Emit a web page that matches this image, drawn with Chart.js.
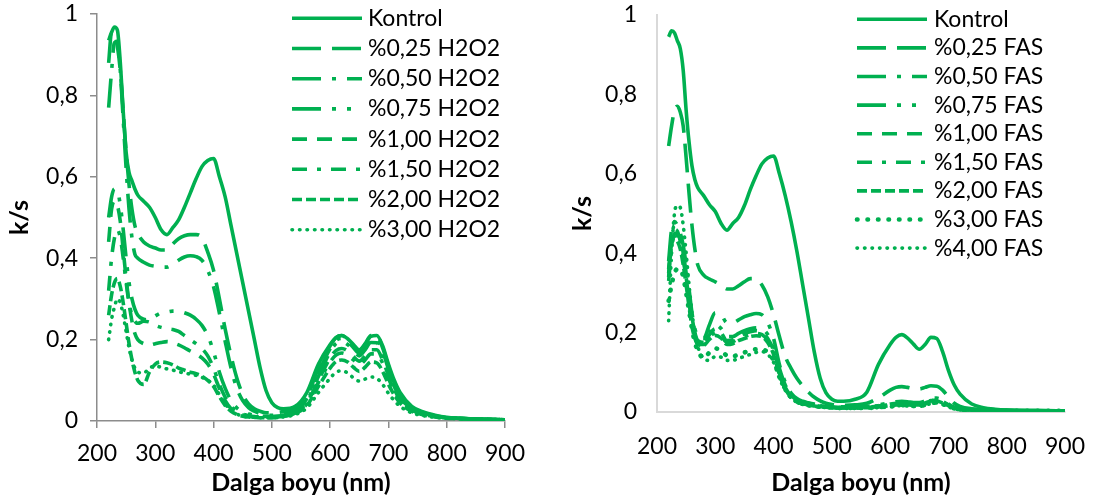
<!DOCTYPE html>
<html>
<head>
<meta charset="utf-8">
<script src="https://cdn.jsdelivr.net/npm/chart.js@4.4.1/dist/chart.umd.min.js"></script>
<style>
  html, body { margin: 0; padding: 0; background: #fff; }
  #wrap { position: relative; width: 1094px; height: 504px; overflow: hidden; }
  canvas { position: absolute; top: 0; }
  #h2o2 { left: 0; }
  #fas { left: 547px; }
</style>
</head>
<body>
<div id="wrap">
  <canvas id="h2o2" width="547" height="504"></canvas>
  <canvas id="fas" width="547" height="504"></canvas>
</div>
<script>
// Wavelengths (nm) shared by every spectrum
const dalgaBoyu = [220,225,230,235,240,245,250,255,260,265, 270,280,290,300,310,320,330,340,350,360,
                   370,380,390,400,410,420,430,440,450,460, 470,480,490,500,510,520,540,560,580,600,
                   610,620,630,640,650,660,670,680,690,700, 710,720,740,760,780,800,850,900];

const xTickValues = [200,300,400,500,600,700,800,900];
const xTickLabels = ['200','300','400','500','600','700','800','900'];
const yTickValues = [0,0.2,0.4,0.6,0.8,1];
const yTickLabels = ['0','0,2','0,4','0,6','0,8','1'];

const h2o2Labels = ['Kontrol','%0,25 H2O2','%0,50 H2O2','%0,75 H2O2','%1,00 H2O2','%1,50 H2O2','%2,00 H2O2','%3,00 H2O2'];
const fasLabels  = ['Kontrol','%0,25 FAS','%0,50 FAS','%0,75 FAS','%1,00 FAS','%1,50 FAS','%2,00 FAS','%3,00 FAS','%4,00 FAS'];

// k/s spectra, H2O2 treatments
const h2o2Kontrol = [0.935,0.955,0.968,0.96,0.88,0.76,0.66,0.61,0.59,0.57, 0.555,0.54,0.525,0.50,0.47,0.458,0.475,0.494,0.525,0.56,
                     0.595,0.625,0.64,0.645,0.60,0.55,0.48,0.41,0.34,0.27, 0.20,0.13,0.075,0.045,0.033,0.03,0.036,0.07,0.14,0.188,
                     0.205,0.21,0.202,0.188,0.175,0.188,0.208,0.21,0.185,0.14, 0.10,0.07,0.036,0.022,0.014,0.009,0.005,0.003];
const h2o2_025 = [0.88,0.955,0.95,0.92,0.86,0.76,0.66,0.58,0.52,0.48, 0.46,0.44,0.43,0.425,0.42,0.42,0.435,0.448,0.455,0.458,
                  0.458,0.45,0.415,0.37,0.30,0.225,0.16,0.105,0.065,0.042, 0.03,0.024,0.02,0.02,0.021,0.023,0.03,0.06,0.13,0.185,
                  0.205,0.21,0.2,0.185,0.172,0.19,0.21,0.21,0.18,0.135, 0.095,0.065,0.034,0.02,0.013,0.009,0.005,0.003];
const h2o2_050 = [0.77,0.86,0.93,0.93,0.86,0.74,0.62,0.52,0.45,0.41, 0.40,0.39,0.383,0.38,0.378,0.378,0.385,0.395,0.403,0.406,
                  0.404,0.395,0.37,0.33,0.265,0.195,0.13,0.08,0.05,0.033, 0.024,0.018,0.015,0.014,0.015,0.017,0.025,0.055,0.12,0.178,
                  0.198,0.203,0.195,0.18,0.167,0.183,0.202,0.2,0.172,0.128, 0.09,0.062,0.032,0.019,0.012,0.008,0.005,0.003];
const h2o2_075 = [0.50,0.55,0.57,0.565,0.53,0.47,0.40,0.34,0.30,0.275, 0.26,0.25,0.248,0.258,0.266,0.268,0.27,0.27,0.266,0.26,
                  0.25,0.235,0.21,0.17,0.12,0.08,0.05,0.032,0.022,0.017, 0.014,0.012,0.011,0.011,0.012,0.014,0.022,0.05,0.11,0.17,
                  0.19,0.195,0.188,0.173,0.16,0.175,0.193,0.192,0.165,0.122, 0.085,0.058,0.03,0.018,0.011,0.008,0.005,0.003];
const h2o2_100 = [0.44,0.52,0.54,0.53,0.49,0.42,0.35,0.29,0.245,0.215, 0.20,0.19,0.187,0.19,0.193,0.195,0.192,0.187,0.18,0.172,
                  0.165,0.155,0.14,0.115,0.08,0.05,0.03,0.02,0.015,0.012, 0.01,0.009,0.009,0.009,0.01,0.012,0.02,0.045,0.10,0.155,
                  0.173,0.178,0.172,0.158,0.147,0.16,0.175,0.175,0.15,0.112, 0.078,0.053,0.028,0.017,0.011,0.008,0.005,0.003];
const h2o2_150 = [0.32,0.40,0.45,0.47,0.45,0.40,0.34,0.29,0.26,0.245, 0.24,0.245,0.243,0.235,0.23,0.227,0.225,0.22,0.21,0.20,
                  0.19,0.178,0.16,0.13,0.09,0.058,0.036,0.024,0.017,0.013, 0.011,0.01,0.009,0.009,0.01,0.012,0.02,0.042,0.095,0.145,
                  0.162,0.167,0.162,0.15,0.138,0.15,0.165,0.165,0.142,0.105, 0.074,0.05,0.027,0.016,0.011,0.008,0.005,0.003];
const h2o2_200 = [0.26,0.31,0.34,0.35,0.33,0.29,0.24,0.19,0.15,0.12, 0.10,0.09,0.12,0.14,0.145,0.143,0.138,0.13,0.125,0.12,
                  0.116,0.11,0.10,0.085,0.06,0.038,0.024,0.016,0.012,0.01, 0.009,0.008,0.008,0.008,0.009,0.011,0.018,0.038,0.085,0.13,
                  0.146,0.15,0.145,0.132,0.122,0.132,0.145,0.143,0.122,0.09, 0.064,0.044,0.024,0.015,0.01,0.007,0.005,0.003];
const h2o2_300 = [0.20,0.25,0.28,0.30,0.29,0.26,0.22,0.18,0.15,0.13, 0.12,0.118,0.13,0.135,0.132,0.128,0.125,0.121,0.118,0.115,
                  0.112,0.107,0.10,0.088,0.065,0.042,0.026,0.017,0.012,0.01, 0.009,0.008,0.008,0.008,0.009,0.01,0.016,0.032,0.07,0.105,
                  0.12,0.123,0.118,0.106,0.098,0.103,0.108,0.105,0.09,0.068, 0.05,0.036,0.02,0.013,0.009,0.007,0.004,0.003];

// k/s spectra, FAS treatments
const fasKontrol = [0.945,0.96,0.955,0.935,0.915,0.86,0.76,0.68,0.62,0.585, 0.565,0.545,0.522,0.505,0.475,0.458,0.475,0.49,0.52,0.56,
                    0.595,0.625,0.64,0.645,0.60,0.545,0.48,0.405,0.32,0.235, 0.15,0.085,0.048,0.032,0.027,0.027,0.032,0.05,0.12,0.17,
                    0.188,0.195,0.186,0.171,0.158,0.17,0.188,0.185,0.152,0.105, 0.068,0.045,0.02,0.011,0.007,0.005,0.004,0.003];
const fas_025 = [0.67,0.72,0.76,0.77,0.755,0.72,0.64,0.55,0.47,0.41, 0.37,0.345,0.335,0.328,0.32,0.31,0.31,0.318,0.328,0.336,
                 0.335,0.32,0.29,0.245,0.19,0.14,0.11,0.085,0.066,0.05, 0.037,0.028,0.022,0.019,0.017,0.017,0.018,0.022,0.036,0.055,
                 0.062,0.064,0.062,0.059,0.058,0.062,0.066,0.065,0.055,0.038, 0.022,0.014,0.008,0.006,0.005,0.004,0.003,0.003];
const fas_050 = [0.38,0.46,0.48,0.47,0.45,0.42,0.37,0.31,0.25,0.21, 0.19,0.185,0.22,0.25,0.245,0.225,0.225,0.232,0.24,0.245,
                 0.248,0.245,0.225,0.185,0.12,0.075,0.048,0.034,0.027,0.023, 0.02,0.018,0.016,0.015,0.014,0.013,0.013,0.014,0.018,0.023,
                 0.026,0.027,0.026,0.024,0.024,0.028,0.034,0.035,0.03,0.02, 0.012,0.008,0.006,0.005,0.004,0.004,0.003,0.003];
const fas_075 = [0.36,0.44,0.47,0.46,0.44,0.40,0.35,0.29,0.24,0.20, 0.18,0.175,0.20,0.22,0.21,0.19,0.19,0.198,0.205,0.21,
                 0.212,0.21,0.195,0.165,0.11,0.068,0.043,0.03,0.024,0.02, 0.018,0.016,0.014,0.013,0.012,0.012,0.012,0.013,0.016,0.02,
                 0.022,0.023,0.022,0.021,0.021,0.024,0.029,0.03,0.026,0.018, 0.011,0.007,0.005,0.004,0.004,0.003,0.003,0.003];
const fas_100 = [0.34,0.43,0.46,0.455,0.43,0.39,0.34,0.28,0.23,0.195, 0.175,0.172,0.195,0.21,0.20,0.18,0.182,0.19,0.197,0.202,
                 0.205,0.20,0.185,0.155,0.10,0.062,0.04,0.028,0.022,0.019, 0.017,0.015,0.013,0.012,0.011,0.011,0.011,0.012,0.015,0.019,
                 0.021,0.022,0.021,0.02,0.02,0.023,0.028,0.03,0.026,0.018, 0.011,0.007,0.005,0.004,0.004,0.003,0.003,0.003];
const fas_150 = [0.33,0.41,0.45,0.445,0.425,0.385,0.335,0.275,0.225,0.19, 0.172,0.17,0.188,0.20,0.192,0.175,0.177,0.185,0.19,0.195,
                 0.198,0.195,0.18,0.15,0.097,0.06,0.038,0.027,0.021,0.018, 0.016,0.014,0.012,0.011,0.01,0.01,0.01,0.011,0.014,0.017,
                 0.019,0.02,0.019,0.018,0.018,0.021,0.026,0.028,0.024,0.016, 0.01,0.006,0.005,0.004,0.003,0.003,0.003,0.003];
const fas_200 = [0.35,0.42,0.44,0.43,0.41,0.37,0.32,0.265,0.215,0.185, 0.17,0.168,0.183,0.193,0.186,0.17,0.172,0.18,0.185,0.19,
                 0.192,0.19,0.175,0.145,0.095,0.058,0.037,0.026,0.02,0.017, 0.015,0.013,0.012,0.011,0.01,0.01,0.01,0.011,0.013,0.016,
                 0.018,0.019,0.018,0.017,0.017,0.02,0.025,0.027,0.023,0.016, 0.01,0.006,0.005,0.004,0.003,0.003,0.003,0.003];
const fas_300 = [0.28,0.32,0.35,0.36,0.36,0.34,0.30,0.255,0.21,0.175, 0.155,0.135,0.15,0.16,0.155,0.142,0.14,0.145,0.15,0.155,
                 0.158,0.158,0.15,0.13,0.09,0.058,0.037,0.026,0.02,0.017, 0.015,0.013,0.012,0.011,0.01,0.01,0.01,0.01,0.012,0.014,
                 0.016,0.017,0.016,0.015,0.015,0.018,0.022,0.024,0.02,0.014, 0.009,0.006,0.004,0.004,0.003,0.003,0.003,0.003];
const fas_400 = [0.23,0.40,0.50,0.52,0.515,0.47,0.40,0.32,0.25,0.20, 0.165,0.135,0.13,0.14,0.138,0.13,0.13,0.135,0.14,0.145,
                 0.15,0.152,0.145,0.125,0.085,0.055,0.035,0.025,0.019,0.016, 0.014,0.012,0.011,0.01,0.009,0.009,0.009,0.01,0.011,0.013,
                 0.015,0.016,0.015,0.014,0.014,0.017,0.021,0.023,0.019,0.013, 0.008,0.006,0.004,0.004,0.003,0.003,0.003,0.003];

const h2o2Series = [h2o2Kontrol, h2o2_025, h2o2_050, h2o2_075, h2o2_100, h2o2_150, h2o2_200, h2o2_300];
const fasSeries  = [fasKontrol, fas_025, fas_050, fas_075, fas_100, fas_150, fas_200, fas_300, fas_400];

// Line styles (Office-like dash types)
const GREEN = '#00B050';
const STYLE = {
  solid:       { dash: [],                     cap: 'butt',  width: 3.6 },
  longDash:    { dash: [29, 11],               cap: 'butt',  width: 3.6 },
  longDashDot: { dash: [29, 11, 4, 11],        cap: 'butt',  width: 3.6 },
  longDash2Dot:{ dash: [29, 11, 4, 11, 4, 11], cap: 'butt',  width: 3.6 },
  dash:        { dash: [15, 10],               cap: 'butt',  width: 3.6 },
  dashDot:     { dash: [15, 10, 4, 10],        cap: 'butt',  width: 3.6 },
  sysDash:     { dash: [10, 4],                cap: 'butt',  width: 3.6 },
  roundDot:    { dash: [0.5, 7],               cap: 'round', width: 3.6 },
  bigDot:      { dash: [0.5, 10],              cap: 'round', width: 4.6 }
};
const h2o2Styles = ['solid','longDash','longDashDot','longDash2Dot','dash','dashDot','sysDash','roundDot'];
const fasStyles  = ['solid','longDash','longDashDot','longDash2Dot','dash','dashDot','sysDash','bigDot','roundDot'];

function buildDatasets(labels, series, styles) {
  return series.map((vals, i) => {
    const st = STYLE[styles[i]];
    return {
      label: labels[i],
      data: dalgaBoyu.map((x, j) => ({ x: x, y: vals[j] })),
      borderColor: GREEN,
      backgroundColor: GREEN,
      borderWidth: st.width,
      borderDash: st.dash,
      borderCapStyle: st.cap,
      borderJoinStyle: 'round',
      pointRadius: 0,
      fill: false,
      cubicInterpolationMode: 'monotone'
    };
  });
}

// Legend drawn as line samples with text, inside the plot area
const lineLegend = {
  id: 'lineLegend',
  afterDraw(chart, args, opts) {
    const ctx = chart.ctx;
    ctx.save();
    ctx.font = opts.fontSize + 'px Lato';
    ctx.textBaseline = 'middle';
    ctx.textAlign = 'left';
    ctx.fillStyle = '#000';
    chart.data.datasets.forEach((ds, i) => {
      const y = opts.top + i * opts.step;
      ctx.beginPath();
      ctx.setLineDash(ds.borderDash);
      ctx.lineCap = ds.borderCapStyle;
      ctx.lineWidth = ds.borderWidth;
      ctx.strokeStyle = ds.borderColor;
      ctx.moveTo(opts.lineStart, y);
      ctx.lineTo(opts.lineEnd, y);
      ctx.stroke();
      ctx.setLineDash([]);
      ctx.fillText(ds.label, opts.textX, y);
    });
    ctx.restore();
  }
};

Chart.defaults.font.family = 'Lato';
Chart.defaults.color = '#000';

// Fixed axis box sizes; label overhang is absorbed by the layout padding
function fixAxis(size, horizontal) {
  return s => {
    if (horizontal) s.height = size; else s.width = size;
    s.paddingTop = 0; s.paddingBottom = 0; s.paddingLeft = 0; s.paddingRight = 0;
  };
}

function makeChart(canvasId, labels, series, styles, cfg) {
  const fontTick = { size: 23 };
  const fontTitle = { size: 25, weight: 'bold' };
  return new Chart(document.getElementById(canvasId), {
    type: 'line',
    data: { datasets: buildDatasets(labels, series, styles) },
    plugins: [lineLegend],
    options: {
      responsive: false,
      animation: false,
      devicePixelRatio: 1,
      layout: { padding: { left: 0, right: cfg.padRight, top: cfg.padTop, bottom: 0 } },
      plugins: {
        legend: { display: false },
        tooltip: { enabled: false },
        lineLegend: cfg.legend
      },
      scales: {
        x: {
          type: 'linear', min: 200, max: 900,
          afterBuildTicks: s => { s.ticks = xTickValues.map(v => ({ value: v })); },
          afterFit: fixAxis(cfg.xHeight, true),
          ticks: { autoSkip: false, maxRotation: 0, padding: cfg.xTickPad, font: fontTick, color: '#000',
                   callback: v => xTickLabels[xTickValues.indexOf(v)] },
          grid: { display: cfg.ticks, drawOnChartArea: false, drawTicks: cfg.ticks, tickLength: 7,
                  color: cfg.axisColor, lineWidth: 1.5 },
          border: { display: true, color: cfg.axisColor, width: cfg.axisWidth },
          title: { display: true, text: 'Dalga boyu (nm)', font: fontTitle, color: '#000',
                   padding: { top: 0, bottom: cfg.xTitlePad } }
        },
        y: {
          type: 'linear', min: 0, max: 1,
          afterBuildTicks: s => { s.ticks = yTickValues.map(v => ({ value: v })); },
          afterFit: fixAxis(cfg.yWidth, false),
          ticks: { padding: cfg.yTickPad, font: fontTick, color: '#000',
                   callback: v => yTickLabels[Math.round(v / 0.2)] },
          grid: { display: cfg.ticks, drawOnChartArea: false, drawTicks: cfg.ticks, tickLength: 7,
                  color: cfg.axisColor, lineWidth: 1.5 },
          border: { display: true, color: cfg.axisColor, width: cfg.axisWidth },
          title: { display: true, text: 'k/s', font: fontTitle, color: '#000',
                   padding: { top: cfg.yTitlePad, bottom: 0 } }
        }
      }
    }
  });
}

makeChart('h2o2', h2o2Labels, h2o2Series, h2o2Styles, {
  padRight: 42, padTop: 14, xHeight: 83, yWidth: 97,
  xTickPad: 12, yTickPad: 12, xTitlePad: 6, yTitlePad: 5,
  ticks: true, axisColor: '#8c8c8c', axisWidth: 1.5,
  legend: { lineStart: 292, lineEnd: 362, textX: 368, top: 18.3, step: 30.2, fontSize: 23 }
});

makeChart('fas', fasLabels, fasSeries, fasStyles, {
  padRight: 29, padTop: 15, xHeight: 92, yWidth: 110,
  xTickPad: 21, yTickPad: 20, xTitlePad: 6, yTitlePad: 21,
  ticks: false, axisColor: '#d9d9d9', axisWidth: 2,
  legend: { lineStart: 310, lineEnd: 380, textX: 387, top: 19.3, step: 28.6, fontSize: 23 }
});
</script>
</body>
</html>
